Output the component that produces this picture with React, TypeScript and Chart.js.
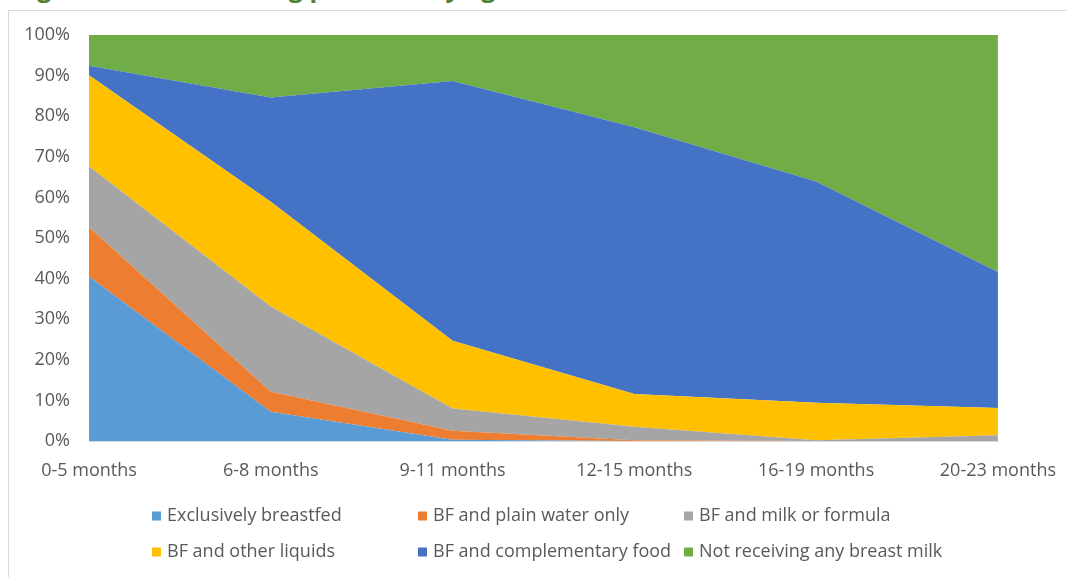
import React, { useEffect, useRef } from "react";
import { Chart, registerables } from "chart.js";

Chart.register(...registerables);

const categories = ["0-5 months", "6-8 months", "9-11 months", "12-15 months", "16-19 months", "20-23 months"];
const exclusivelyBreastfed = [40.5, 7.2, 0.3, 0, 0, 0];
const plainWaterOnly = [12.2, 4.9, 2.2, 0.2, 0, 0];
const milkOrFormula = [15, 21, 5.5, 3.3, 0.2, 1.4];
const otherLiquids = [22.4, 25.8, 16.7, 8.1, 9.2, 6.7];
const complementaryFood = [2.3, 25.7, 64, 65.7, 54.5, 33.5];
const notBreastfed = [7.6, 15.4, 11.3, 22.7, 36.1, 58.4];

const seriesNames = [
  "Exclusively breastfed",
  "BF and plain water only",
  "BF and milk or formula",
  "BF and other liquids",
  "BF and complementary food",
  "Not receiving any breast milk",
];
const seriesValues = [exclusivelyBreastfed, plainWaterOnly, milkOrFormula, otherLiquids, complementaryFood, notBreastfed];
const seriesColors = ["#5B9BD5", "#ED7D31", "#A5A5A5", "#FFC000", "#4472C4", "#70AD47"];
const yTickStep = 10;
const yMax = 100;
const titleText = "Figure 4: Breastfeeding practices by age";

const FONT = "'Open Sans', 'Noto Sans', sans-serif";
const TEXT = "#595959";

const gridLegend = {
  id: "gridLegend",
  afterDraw(chart: any) {
    const ctx = chart.ctx as CanvasRenderingContext2D;
    const cols = [152, 418, 684];
    const rows = [516, 552];
    ctx.save();
    ctx.font = `18px ${FONT}`;
    ctx.textBaseline = "middle";
    ctx.textAlign = "left";
    chart.data.datasets.forEach((ds: any, i: number) => {
      const x = cols[i % 3];
      const y = rows[Math.floor(i / 3)];
      ctx.fillStyle = ds.backgroundColor;
      ctx.fillRect(x, y - 4.5, 9, 9);
      ctx.fillStyle = TEXT;
      ctx.fillText(ds.label, x + 15, y);
    });
    ctx.restore();
  },
};

export default function App() {
  const canvasRef = useRef<HTMLCanvasElement | null>(null);

  useEffect(() => {
    if (!canvasRef.current) return;
    Chart.defaults.font.family = FONT;
    Chart.defaults.font.size = 18;
    Chart.defaults.color = TEXT;
    const chart = new Chart(canvasRef.current, {
      type: "line",
      data: {
        labels: categories,
        datasets: seriesNames.map((name, i) => ({
          label: name,
          data: seriesValues[i],
          backgroundColor: seriesColors[i],
          borderColor: seriesColors[i],
          borderWidth: 0,
          pointRadius: 0,
          pointHoverRadius: 0,
          tension: 0,
          fill: i === 0 ? "origin" : "-1",
        })),
      },
      options: {
        animation: false,
        responsive: true,
        maintainAspectRatio: false,
        events: [],
        layout: { padding: { left: 0, right: 68, top: 35, bottom: 96 } },
        plugins: {
          legend: { display: false },
          tooltip: { enabled: false },
          title: { display: false },
        },
        scales: {
          x: {
            grid: { display: false },
            border: { display: true, color: "#D9D9D9", width: 1 },
            ticks: { color: TEXT, font: { size: 18, family: FONT }, padding: 11, maxRotation: 0, autoSkip: false },
            afterFit: (s: any) => {
              s.height = 40;
            },
          },
          y: {
            stacked: true,
            min: 0,
            max: yMax,
            grid: { display: false, drawTicks: false },
            border: { display: false },
            ticks: {
              stepSize: yTickStep,
              color: TEXT,
              font: { size: 18, family: FONT },
              padding: 19,
              callback: (v: any) => `${v}%`,
            },
            afterFit: (s: any) => {
              s.width = 89;
            },
          },
        },
      },
      plugins: [gridLegend],
    });
    let alive = true;
    (document as any).fonts?.load?.(`18px ${FONT}`).then(() => {
      if (alive) chart.update();
    });
    return () => {
      alive = false;
      chart.destroy();
    };
  }, []);

  return (
    <div style={{ position: "fixed", left: 0, top: 0, width: 1067, height: 577, overflow: "hidden", background: "#fff" }}>
      <div
        style={{
          position: "absolute",
          left: 16,
          top: -30,
          fontFamily: FONT,
          fontWeight: 700,
          fontSize: 25,
          lineHeight: "34px",
          color: "#538135",
          whiteSpace: "nowrap",
        }}
      >
        {titleText}
      </div>
      <div
        style={{
          position: "absolute",
          left: 8,
          top: 10,
          width: 1200,
          height: 700,
          border: "1px solid #D9D9D9",
          boxSizing: "border-box",
        }}
      />
      <div style={{ position: "absolute", left: 0, top: 0, width: 1067, height: 577 }}>
        <canvas ref={canvasRef} />
      </div>
    </div>
  );
}
